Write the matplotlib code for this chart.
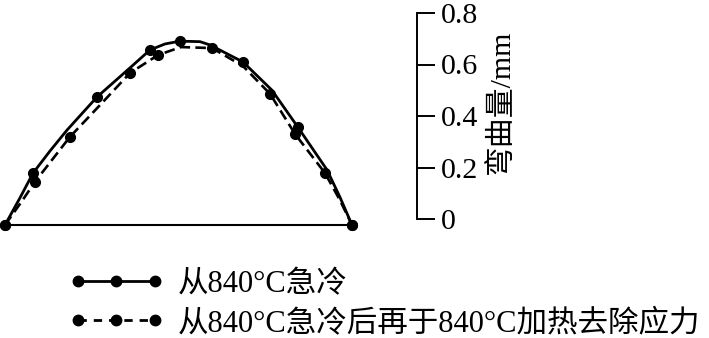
import matplotlib
matplotlib.use("Agg")
import matplotlib.pyplot as plt
from matplotlib.lines import Line2D

plt.rcParams["font.family"] = ["Liberation Serif", "Noto Sans CJK SC"]
plt.rcParams["font.size"] = 21.5

# position along the specimen (normalised) and bending (mm)
x_quench = [0.000, 0.043, 0.081, 0.130, 0.179, 0.265, 0.360, 0.418, 0.461,
            0.504, 0.562, 0.591, 0.686, 0.769, 0.844, 0.928, 0.965, 1.000]
y_quench = [0.000, 0.105, 0.202, 0.288, 0.369, 0.497, 0.610, 0.680, 0.703,
            0.714, 0.712, 0.699, 0.633, 0.524, 0.380, 0.214, 0.109, 0.000]
mark_quench = [0, 2, 5, 7, 9, 12, 14, 17]

x_relief = [0.000, 0.049, 0.086, 0.135, 0.187, 0.274, 0.360, 0.441,
            0.507, 0.597, 0.686, 0.764, 0.836, 0.922, 0.965, 1.000]
y_relief = [0.000, 0.093, 0.167, 0.252, 0.342, 0.466, 0.590, 0.660,
            0.691, 0.687, 0.617, 0.509, 0.353, 0.202, 0.097, 0.000]
mark_relief = [0, 2, 4, 6, 7, 9, 11, 12, 13, 15]

base_x = [0.0, 1.0]
base_y = [0.0, 0.0]

scale_ticks = [0, 0.2, 0.4, 0.6, 0.8]
scale_labels = ["0", "0.2", "0.4", "0.6", "0.8"]

labels = ["从840°C急冷", "从840°C急冷后再于840°C加热去除应力"]

W, H = 709, 338
fig = plt.figure(figsize=(W / 100, H / 100), dpi=100)

# arches
ax = fig.add_axes([0, (H - 240) / H, 360 / W, 240 / H])
ax.plot(base_x, base_y, color="black", lw=1.5, solid_capstyle="butt")
ax.plot(x_quench, y_quench, color="black", lw=2.0)
ax.plot(x_relief, y_relief, color="black", lw=1.9, linestyle=(0, (4, 2)))
ax.plot([x_quench[i] for i in mark_quench], [y_quench[i] for i in mark_quench],
        "o", color="black", ms=7, clip_on=False)
ax.plot([x_relief[i] for i in mark_relief], [y_relief[i] for i in mark_relief],
        "o", color="black", ms=7, clip_on=False)
ax.set_xlim(-5 / 347, 355 / 347)
ax.set_ylim(-15 / 257.5, 225 / 257.5)
ax.axis("off")

# scale bar on the right
ax2 = fig.add_axes([317 / W, (H - 219) / H, 100 / W, 206 / H])
ax2.set_ylim(0, 0.8)
ax2.set_xticks([])
for s in ["left", "top", "bottom"]:
    ax2.spines[s].set_visible(False)
ax2.spines["right"].set_linewidth(1.4)
ax2.patch.set_visible(False)
ax2.yaxis.tick_right()
ax2.set_yticks(scale_ticks)
ax2.set_yticklabels(scale_labels)
ax2.tick_params(axis="y", direction="out", length=13, width=1.4, pad=4)
ax2.yaxis.set_label_position("right")
ax2.set_ylabel("弯曲量/mm")
ax2.yaxis.set_label_coords(1.70, 0.568)

handles = [
    Line2D([], [], color="black", lw=2.0, marker="o", ms=7.5),
    Line2D([], [], color="black", lw=2.0, marker="o", ms=7.5, linestyle=(0, (3, 2.5))),
]
fig.legend(handles, labels, loc="upper left", bbox_to_anchor=(69 / W, 1 - 270 / H),
           frameon=False, numpoints=3, handlelength=3.1, handletextpad=0.45,
           labelspacing=0.32, borderpad=0, borderaxespad=0, fontsize=22)

fig.savefig("out.png", dpi=100)
